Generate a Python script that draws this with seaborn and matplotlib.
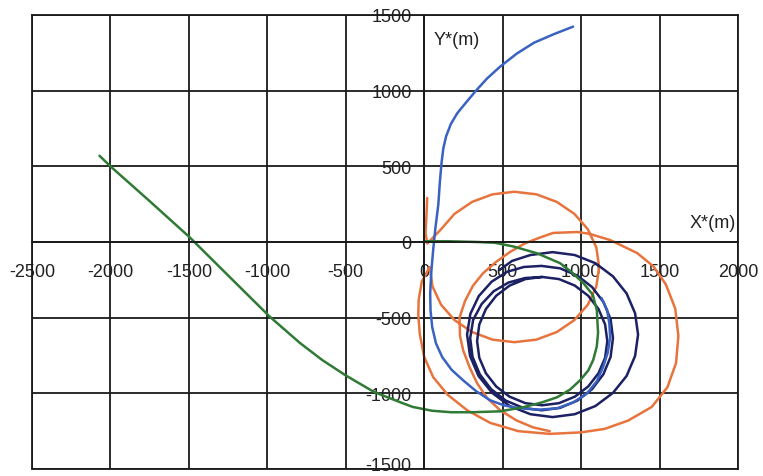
import numpy as np
import matplotlib
matplotlib.use("Agg")
import matplotlib.pyplot as plt
import matplotlib.transforms as mtransforms
import seaborn as sns

# trajectory points (metres)
green_x = [-2070, -2000, -1750, -1497, -1250, -984, -790, -650, -503, -320, -150, -73, 50, 172, 300, 484, 630,
           750, 847, 930, 994, 1045, 1077, 1100, 1108, 1100, 1075, 1013, 940, 866, 720, 570, 450, 340, 150, 0]
green_y = [570, 500, 270, 33, -221, -494, -669, -780, -880, -991, -1060, -1090, -1115, -1125, -1125, -1119, -1092,
           -1060, -1026, -975, -913, -850, -780, -690, -600, -450, -350, -270, -200, -140, -75, -30, -5, 0, 5, 5]

blue_x = [949, 830, 700, 590, 484, 400, 330, 265, 210, 170, 140, 122, 110, 100, 90, 70, 57, 45, 38, 40, 51,
          75, 115, 175, 248, 330, 420, 510, 611, 730, 847, 950, 1038, 1100, 1140, 1170, 1185, 1180, 1166, 1130]
blue_y = [1423, 1375, 1317, 1245, 1159, 1080, 1000, 920, 850, 780, 700, 620, 520, 400, 250, 80, -53, -200,
          -338, -450, -563, -670, -761, -845, -914, -985, -1046, -1080, -1099, -1108, -1099, -1060, -1000,
          -920, -827, -730, -629, -540, -450, -370]

orange_x = [19, 14, 8, 20, 107, 193, 305, 435, 575, 715, 845, 957, 1043, 1097, 1115, 1097, 1043, 957, 845,
            715, 575, 435, 305, 193, 107, 53, 35, -15, -35, -38, -28, 0, 57, 150, 274, 420, 600, 800, 1000,
            1150, 1300, 1450, 1550, 1605, 1620, 1600, 1540, 1460, 1357, 1185, 1050, 975, 822, 739, 640, 548,
            460, 376, 310, 260, 225, 228, 248, 290, 337, 400, 484, 590, 694, 800]
orange_y = [291, 170, 60, -10, 84, 186, 265, 315, 332, 315, 265, 186, 84, -36, -165, -294, -414, -516, -595,
            -645, -662, -645, -595, -516, -414, -294, -165, -260, -380, -480, -610, -760, -893, -1010, -1112,
            -1195, -1250, -1268, -1258, -1235, -1180, -1090, -960, -800, -620, -440, -280, -160, -73, 13, 55,
            66, 60, 30, -10, -65, -130, -205, -290, -390, -500, -620, -715, -830, -933, -1030, -1112, -1180,
            -1225, -1250]

navy_x = [480, 560, 677,
          818, 959, 1091, 1203, 1290, 1344, 1363, 1344, 1290, 1203, 1091, 959, 818, 677, 545, 433, 346, 292,
          273, 294, 348, 430, 528, 635,
          748, 866, 976, 1070, 1142, 1188, 1203, 1188, 1142, 1070, 976, 866, 748, 630, 520, 426, 354, 308,
          293, 312, 366, 442, 537, 643,
          752, 859, 960, 1045, 1111, 1153, 1167, 1153, 1111, 1045, 960, 859, 752, 645, 544, 459, 393, 351,
          337, 351, 393, 459, 544, 645, 752]
navy_y = [-185, -125, -86,
          -67, -86, -140, -227, -340, -471, -612, -753, -885, -997, -1084, -1138, -1157, -1138, -1084, -997,
          -885, -753, -612, -475, -357, -262, -197, -165,
          -158, -174, -222, -298, -396, -511, -635, -759, -874, -972, -1048, -1096, -1112, -1096, -1048, -972,
          -874, -759, -635, -514, -410, -326, -268, -238,
          -231, -245, -288, -355, -443, -545, -655, -765, -867, -955, -1022, -1065, -1079, -1065, -1022, -955,
          -867, -765, -655, -545, -443, -355, -288, -245, -231]

x_ticks = [-2500, -2000, -1500, -1000, -500, 0, 500, 1000, 1500, 2000]
y_ticks = [-1500, -1000, -500, 0, 500, 1000, 1500]

sns.set_style("white")
plt.rcParams['font.family'] = ['Liberation Sans', 'DejaVu Sans']
plt.rcParams['axes.unicode_minus'] = False

fig, ax = plt.subplots(figsize=(7.63, 4.77), dpi=100)
fig.subplots_adjust(left=32/763, right=738/763, top=1 - 16/477, bottom=1 - 470/477)

series = [
    (orange_x, orange_y, '#e8743d'),
    (navy_x, navy_y, '#1c2163'),
    (blue_x, blue_y, '#3a62c2'),
    (green_x, green_y, '#2f7a34'),
]
for xs, ys, col in series:
    sns.lineplot(x=xs, y=ys, sort=False, estimator=None, color=col, lw=1.8, ax=ax)

ax.set_xlim(-2500, 2000)
ax.set_ylim(-1500, 1500)
ax.set_xticks(x_ticks)
ax.set_yticks(y_ticks)
ax.grid(True, color='#1a1a1a', lw=1.3)
ax.set_axisbelow(True)

# axes cross at the origin, outer frame kept
ax.spines['left'].set_position(('data', 0))
ax.spines['bottom'].set_position(('data', 0))
for s in ax.spines.values():
    s.set_color('#1a1a1a')
    s.set_linewidth(1.3)
ax.axvline(-2500, color='#1a1a1a', lw=1.3, clip_on=False)
ax.axhline(-1500, color='#1a1a1a', lw=1.3, clip_on=False)

ax.tick_params(axis='x', length=0, pad=15, labelsize=13, labelcolor='#222222')
ax.tick_params(axis='y', length=0, pad=9, labelsize=13, labelcolor='#222222')

# lift the bottom y label a little so it stays inside the figure
lab = ax.get_yticklabels()[0]
lab.set_transform(lab.get_transform() + mtransforms.ScaledTranslation(0, 0.05, fig.dpi_scale_trans))

ax.text(57, 1337, 'Y*(m)', fontsize=13, color='#222222', va='center', ha='left')
ax.text(1694, 126, 'X*(m)', fontsize=13, color='#222222', va='center', ha='left')

fig.savefig('out.png', dpi=100)
